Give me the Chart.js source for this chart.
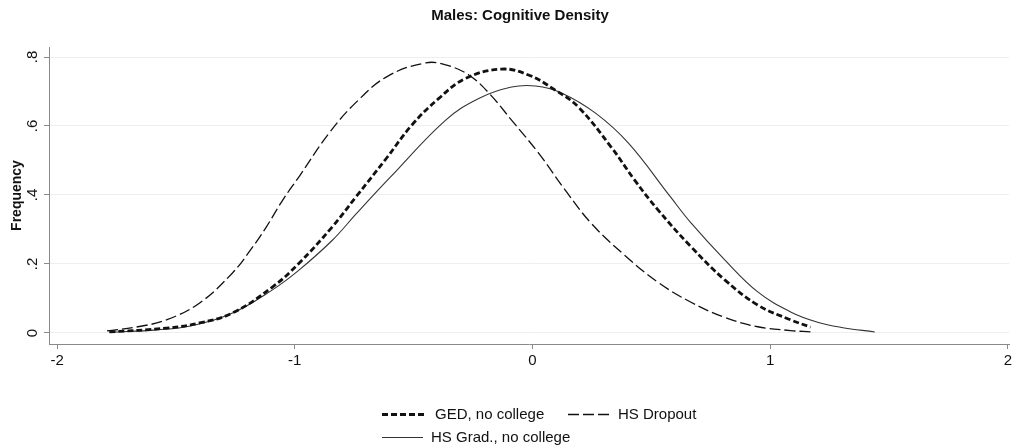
<!DOCTYPE html>
<html>
<head>
<meta charset="utf-8">
<script src="https://cdn.jsdelivr.net/npm/chart.js@4"></script>
<style>
  body { margin: 0; background: #fff; font-family: "Liberation Sans", Arial, sans-serif; }
  #wrap { position: relative; width: 1015px; height: 447px; }
  #title { position: absolute; top: 6px; left: 0; width: 1040px; text-align: center;
    font-weight: bold; font-size: 15px; line-height: 18px; color: #111; }
  .leg { position: absolute; font-size: 15px; line-height: 18px; color: #111; white-space: nowrap; }
  .leg svg { position: absolute; left: 0; top: 0; }
</style>
</head>
<body>
<div id="wrap">
  <canvas id="chart" width="1015" height="447"></canvas>
  <div id="title">Males: Cognitive Density</div>
  <div id="legend"></div>
</div>
<script>
// ---------------- DATA ----------------
const xTicks = [-2, -1, 0, 1, 2];
const yTicks = [0, 0.2, 0.4, 0.6, 0.8];
const yTickLabels = ['0', '.2', '.4', '.6', '.8'];

const seriesNames = ['GED, no college', 'HS Dropout', 'HS Grad., no college'];

const gedX = [-1.78, -1.54, -1.40, -1.262, -1.094, -0.981, -0.843, -0.742, -0.616, -0.507, -0.394, -0.281, -0.13, -0.017, 0.096, 0.193, 0.331, 0.43, 0.528, 0.667, 0.809, 0.948, 1.086, 1.17];
const gedY = [0.003, 0.014, 0.029, 0.058, 0.133, 0.203, 0.307, 0.395, 0.505, 0.603, 0.68, 0.738, 0.765, 0.748, 0.704, 0.655, 0.539, 0.443, 0.357, 0.25, 0.154, 0.081, 0.038, 0.017];

const dropX = [-1.79, -1.66, -1.54, -1.40, -1.262, -1.19, -1.12, -1.05, -0.98, -0.855, -0.74, -0.61, -0.449, -0.365, -0.268, -0.184, -0.088, 0.025, 0.138, 0.247, 0.39, 0.528, 0.667, 0.809, 0.948, 1.086, 1.17];
const dropY = [0.006, 0.018, 0.038, 0.087, 0.174, 0.237, 0.307, 0.386, 0.455, 0.58, 0.67, 0.744, 0.783, 0.777, 0.748, 0.696, 0.617, 0.522, 0.414, 0.318, 0.224, 0.147, 0.089, 0.045, 0.018, 0.007, 0.003];

const gradX = [-1.78, -1.58, -1.44, -1.262, -1.094, -0.981, -0.843, -0.742, -0.60, -0.365, -0.226, -0.088, 0.013, 0.122, 0.264, 0.403, 0.58, 0.667, 0.809, 0.948, 1.086, 1.2, 1.3, 1.44];
const gradY = [0.002, 0.009, 0.02, 0.058, 0.125, 0.183, 0.268, 0.345, 0.45, 0.617, 0.68, 0.713, 0.716, 0.696, 0.638, 0.551, 0.395, 0.319, 0.212, 0.119, 0.061, 0.031, 0.016, 0.003];

// ---------------- STYLES ----------------
const styles = [
  { color: '#111', width: 2.8, dash: [6, 3] },
  { color: '#111', width: 1.3, dash: [11, 4] },
  { color: '#333', width: 1.1, dash: [] },
];
const axisGray = '#8a8a8a';
const font = '"Liberation Sans", Arial, sans-serif';

const toPoints = (xs, ys) => xs.map((x, i) => ({ x, y: ys[i] }));
const seriesData = [toPoints(gedX, gedY), toPoints(dropX, dropY), toPoints(gradX, gradY)];

// ---------------- CHART ----------------
new Chart(document.getElementById('chart'), {
  type: 'line',
  data: {
    datasets: seriesNames.map((name, i) => ({
      label: name,
      data: seriesData[i],
      borderColor: styles[i].color,
      borderWidth: styles[i].width,
      borderDash: styles[i].dash,
      pointRadius: 0,
      fill: false,
      tension: 0.4,
    })),
  },
  options: {
    responsive: false,
    animation: false,
    layout: { padding: { top: 47, left: 0, right: 0, bottom: 0 } },
    plugins: { legend: { display: false }, title: { display: false }, tooltip: { enabled: false } },
    scales: {
      x: {
        type: 'linear',
        min: -2.034,
        max: 2.005,
        afterBuildTicks: (s) => { s.ticks = xTicks.map((v) => ({ value: v })); },
        afterFit: (s) => { s.height = 103; },
        grid: { drawOnChartArea: false, drawTicks: true, tickLength: 5, tickColor: axisGray },
        border: { display: true, color: axisGray, width: 1 },
        ticks: { color: '#111', font: { family: font, size: 15 }, padding: 3, maxRotation: 0 },
      },
      y: {
        type: 'linear',
        min: -0.032,
        max: 0.829,
        afterBuildTicks: (s) => { s.ticks = yTicks.map((v) => ({ value: v })); },
        afterFit: (s) => { s.width = 49; },
        grid: { color: '#eceff2', lineWidth: 1, tickLength: 5, tickColor: axisGray },
        border: { display: true, color: axisGray, width: 1 },
        ticks: {
          color: '#111',
          font: { family: font, size: 15 },
          padding: 5,
          minRotation: 90,
          maxRotation: 90,
          crossAlign: 'center',
          callback: (v) => {
            const i = yTicks.indexOf(v);
            return i >= 0 ? yTickLabels[i] : '';
          },
        },
        title: {
          display: true,
          text: 'Frequency',
          color: '#111',
          font: { family: font, size: 14, weight: 'bold' },
          padding: { top: 9, bottom: 0 },
        },
      },
    },
  },
});

// ---------------- LEGEND ----------------
const legendSpots = [
  { left: 382, top: 405, sample: 45 },
  { left: 568, top: 405, sample: 42 },
  { left: 382, top: 428, sample: 41 },
];
const legendEl = document.getElementById('legend');
seriesNames.forEach((name, i) => {
  const spot = legendSpots[i];
  const st = styles[i];
  const div = document.createElement('div');
  div.className = 'leg';
  div.style.left = spot.left + 'px';
  div.style.top = spot.top + 'px';
  div.style.paddingLeft = (spot.sample + 8) + 'px';
  div.innerHTML = `<svg width="${spot.sample}" height="18"><line x1="0" y1="9.5" x2="${spot.sample}" y2="9.5"
    stroke="${st.color}" stroke-width="${st.width}" stroke-dasharray="${st.dash.join(' ')}"/></svg>${name}`;
  legendEl.appendChild(div);
});
</script>
</body>
</html>
